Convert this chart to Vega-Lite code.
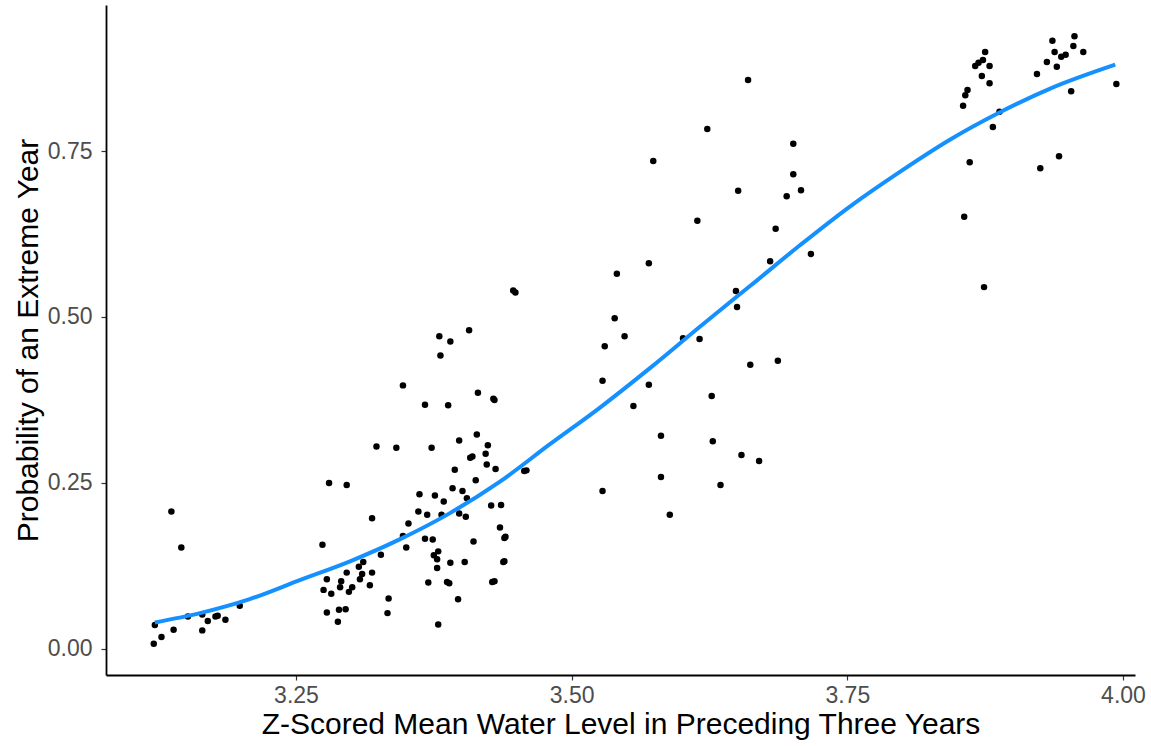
{
  "$schema": "https://vega.github.io/schema/vega-lite/v6.json",
  "width": 1029,
  "height": 670,
  "autosize": {"type": "none"},
  "padding": {"left": 106, "top": 5, "right": 16, "bottom": 71},
  "background": "white",
  "config": {
    "view": {"stroke": null},
    "font": "Liberation Sans",
    "axis": {
      "grid": false,
      "domainColor": "black",
      "domainWidth": 1.8,
      "tickColor": "#333333",
      "tickWidth": 1.2,
      "tickSize": 5,
      "labelFont": "Liberation Sans",
      "labelFontSize": 23,
      "labelColor": "#4D4D4D",
      "titleFont": "Liberation Sans",
      "titleFontSize": 30,
      "titleFontWeight": "normal",
      "titleColor": "black"
    }
  },
  "datasets": {
    "pts": [
      {"x": 3.137, "y": 0.207}, {"x": 3.146, "y": 0.153}, {"x": 3.121, "y": 0.008}, {"x": 3.122, "y": 0.036},
      {"x": 3.128, "y": 0.018}, {"x": 3.139, "y": 0.029}, {"x": 3.152, "y": 0.049}, {"x": 3.165, "y": 0.028},
      {"x": 3.165, "y": 0.052}, {"x": 3.170, "y": 0.042}, {"x": 3.177, "y": 0.049}, {"x": 3.179, "y": 0.050},
      {"x": 3.186, "y": 0.044}, {"x": 3.199, "y": 0.065},
      {"x": 3.380, "y": 0.471}, {"x": 3.390, "y": 0.463}, {"x": 3.407, "y": 0.480}, {"x": 3.381, "y": 0.442},
      {"x": 3.347, "y": 0.397}, {"x": 3.415, "y": 0.386}, {"x": 3.429, "y": 0.377}, {"x": 3.430, "y": 0.375},
      {"x": 3.367, "y": 0.368}, {"x": 3.388, "y": 0.367}, {"x": 3.414, "y": 0.323}, {"x": 3.398, "y": 0.314},
      {"x": 3.424, "y": 0.307}, {"x": 3.323, "y": 0.305}, {"x": 3.341, "y": 0.303}, {"x": 3.373, "y": 0.303},
      {"x": 3.422, "y": 0.294}, {"x": 3.408, "y": 0.288}, {"x": 3.410, "y": 0.290}, {"x": 3.423, "y": 0.278},
      {"x": 3.431, "y": 0.271}, {"x": 3.394, "y": 0.270}, {"x": 3.457, "y": 0.268}, {"x": 3.459, "y": 0.269},
      {"x": 3.413, "y": 0.254}, {"x": 3.280, "y": 0.250}, {"x": 3.296, "y": 0.247}, {"x": 3.392, "y": 0.242},
      {"x": 3.401, "y": 0.238}, {"x": 3.362, "y": 0.233}, {"x": 3.376, "y": 0.231}, {"x": 3.405, "y": 0.227},
      {"x": 3.384, "y": 0.222}, {"x": 3.427, "y": 0.216}, {"x": 3.436, "y": 0.217}, {"x": 3.361, "y": 0.207},
      {"x": 3.369, "y": 0.202}, {"x": 3.382, "y": 0.202}, {"x": 3.398, "y": 0.204}, {"x": 3.404, "y": 0.199},
      {"x": 3.319, "y": 0.197}, {"x": 3.352, "y": 0.189}, {"x": 3.435, "y": 0.183}, {"x": 3.347, "y": 0.170},
      {"x": 3.367, "y": 0.166}, {"x": 3.374, "y": 0.165}, {"x": 3.411, "y": 0.162}, {"x": 3.440, "y": 0.169},
      {"x": 3.439, "y": 0.167}, {"x": 3.274, "y": 0.157}, {"x": 3.350, "y": 0.153}, {"x": 3.327, "y": 0.142},
      {"x": 3.379, "y": 0.147}, {"x": 3.375, "y": 0.141}, {"x": 3.378, "y": 0.135}, {"x": 3.311, "y": 0.131},
      {"x": 3.307, "y": 0.124}, {"x": 3.319, "y": 0.115}, {"x": 3.296, "y": 0.115}, {"x": 3.310, "y": 0.113},
      {"x": 3.390, "y": 0.130}, {"x": 3.403, "y": 0.131}, {"x": 3.438, "y": 0.131}, {"x": 3.439, "y": 0.132},
      {"x": 3.378, "y": 0.122}, {"x": 3.278, "y": 0.105}, {"x": 3.291, "y": 0.102}, {"x": 3.308, "y": 0.105},
      {"x": 3.317, "y": 0.096}, {"x": 3.370, "y": 0.100}, {"x": 3.387, "y": 0.101}, {"x": 3.389, "y": 0.099},
      {"x": 3.428, "y": 0.101}, {"x": 3.430, "y": 0.102}, {"x": 3.290, "y": 0.093}, {"x": 3.301, "y": 0.093},
      {"x": 3.275, "y": 0.089}, {"x": 3.282, "y": 0.083}, {"x": 3.298, "y": 0.086}, {"x": 3.334, "y": 0.076},
      {"x": 3.397, "y": 0.075}, {"x": 3.278, "y": 0.055}, {"x": 3.289, "y": 0.059}, {"x": 3.295, "y": 0.060},
      {"x": 3.333, "y": 0.054}, {"x": 3.288, "y": 0.041}, {"x": 3.379, "y": 0.037},
      {"x": 3.447, "y": 0.540}, {"x": 3.449, "y": 0.537},
      {"x": 3.528, "y": 0.404}, {"x": 3.530, "y": 0.456}, {"x": 3.539, "y": 0.498}, {"x": 3.541, "y": 0.565},
      {"x": 3.548, "y": 0.471}, {"x": 3.528, "y": 0.238}, {"x": 3.556, "y": 0.366}, {"x": 3.570, "y": 0.581},
      {"x": 3.570, "y": 0.398}, {"x": 3.574, "y": 0.735}, {"x": 3.581, "y": 0.321}, {"x": 3.581, "y": 0.259},
      {"x": 3.589, "y": 0.202}, {"x": 3.601, "y": 0.468}, {"x": 3.614, "y": 0.645}, {"x": 3.616, "y": 0.467},
      {"x": 3.623, "y": 0.783}, {"x": 3.627, "y": 0.381}, {"x": 3.628, "y": 0.313}, {"x": 3.635, "y": 0.247},
      {"x": 3.649, "y": 0.539}, {"x": 3.651, "y": 0.690}, {"x": 3.650, "y": 0.515}, {"x": 3.654, "y": 0.292},
      {"x": 3.660, "y": 0.857}, {"x": 3.662, "y": 0.428}, {"x": 3.670, "y": 0.283}, {"x": 3.680, "y": 0.584},
      {"x": 3.685, "y": 0.633}, {"x": 3.687, "y": 0.434}, {"x": 3.695, "y": 0.682}, {"x": 3.701, "y": 0.761},
      {"x": 3.701, "y": 0.715}, {"x": 3.708, "y": 0.691}, {"x": 3.717, "y": 0.595},
      {"x": 3.855, "y": 0.818}, {"x": 3.857, "y": 0.834}, {"x": 3.859, "y": 0.842}, {"x": 3.861, "y": 0.733},
      {"x": 3.856, "y": 0.651}, {"x": 3.866, "y": 0.878}, {"x": 3.869, "y": 0.883}, {"x": 3.872, "y": 0.863},
      {"x": 3.873, "y": 0.887}, {"x": 3.875, "y": 0.899}, {"x": 3.879, "y": 0.878}, {"x": 3.879, "y": 0.852},
      {"x": 3.882, "y": 0.786}, {"x": 3.888, "y": 0.809}, {"x": 3.874, "y": 0.545},
      {"x": 3.922, "y": 0.866}, {"x": 3.925, "y": 0.724}, {"x": 3.931, "y": 0.884}, {"x": 3.936, "y": 0.916},
      {"x": 3.938, "y": 0.899}, {"x": 3.940, "y": 0.877}, {"x": 3.942, "y": 0.742}, {"x": 3.944, "y": 0.892},
      {"x": 3.948, "y": 0.895}, {"x": 3.953, "y": 0.840}, {"x": 3.955, "y": 0.908}, {"x": 3.956, "y": 0.923},
      {"x": 3.964, "y": 0.899}, {"x": 3.994, "y": 0.851}
    ],
    "fit": [
      {"x": 3.122, "y": 0.040}, {"x": 3.163, "y": 0.054}, {"x": 3.208, "y": 0.075}, {"x": 3.254, "y": 0.104},
      {"x": 3.299, "y": 0.132}, {"x": 3.344, "y": 0.165}, {"x": 3.390, "y": 0.205}, {"x": 3.435, "y": 0.252},
      {"x": 3.480, "y": 0.308}, {"x": 3.526, "y": 0.364}, {"x": 3.571, "y": 0.423}, {"x": 3.616, "y": 0.485},
      {"x": 3.662, "y": 0.547}, {"x": 3.707, "y": 0.608}, {"x": 3.752, "y": 0.666}, {"x": 3.798, "y": 0.719},
      {"x": 3.843, "y": 0.767}, {"x": 3.888, "y": 0.808}, {"x": 3.934, "y": 0.844}, {"x": 3.993, "y": 0.880}
    ]
  },
  "encoding": {
    "x": {
      "field": "x", "type": "quantitative",
      "scale": {"domain": [3.0777, 4.0109], "nice": false, "zero": false},
      "axis": {
        "title": "Z-Scored Mean Water Level in Preceding Three Years",
        "values": [3.25, 3.5, 3.75, 4.0], "format": ".2f",
        "labelPadding": 4, "titlePadding": 2
      }
    },
    "y": {
      "field": "y", "type": "quantitative",
      "scale": {"domain": [-0.0392, 0.9699], "nice": false, "zero": false},
      "axis": {
        "title": "Probability of an Extreme Year",
        "values": [0, 0.25, 0.5, 0.75], "format": ".2f",
        "labelPadding": 9, "titlePadding": 4
      }
    }
  },
  "layer": [
    {
      "data": {"name": "pts"},
      "mark": {"type": "circle", "color": "black", "opacity": 1, "size": 42}
    },
    {
      "data": {"name": "fit"},
      "mark": {"type": "line", "color": "#1590FF", "strokeWidth": 4, "interpolate": "monotone"}
    }
  ]
}
